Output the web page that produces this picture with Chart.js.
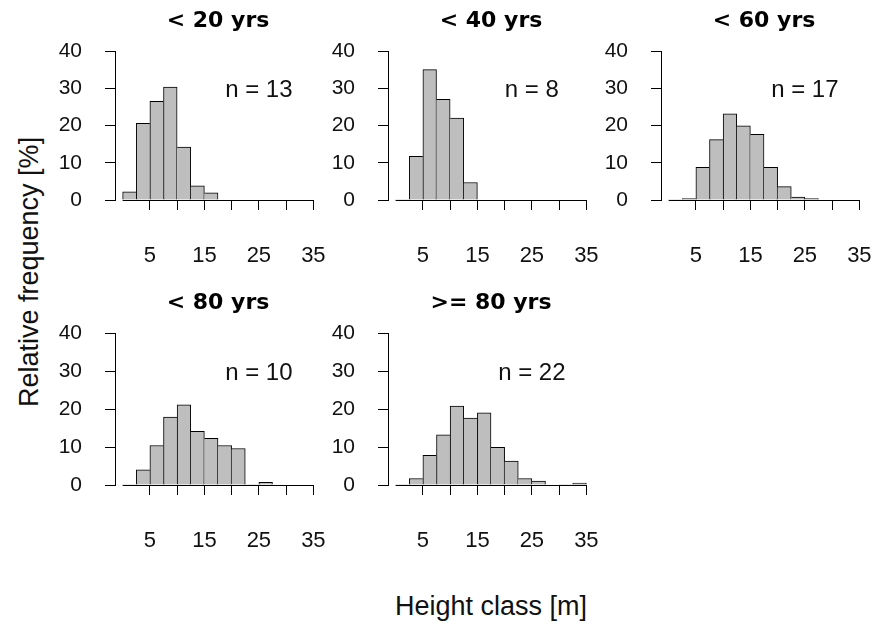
<!DOCTYPE html>
<html>
<head>
<meta charset="utf-8">
<script src="https://cdn.jsdelivr.net/npm/chart.js@4.4.1/dist/chart.umd.min.js"></script>
<style>
  html, body { margin: 0; padding: 0; background: #fff; width: 874px; height: 625px; overflow: hidden; position: relative; }
  canvas { position: absolute; }
  .outer { position: absolute; font-family: 'Liberation Sans', Arial, sans-serif; font-size: 27px; line-height: 1; white-space: nowrap; color: #111; }
  #ylab { left: 16px; top: 407px; transform-origin: 0 0; transform: rotate(-90deg); }
  #xlab { left: 395px; top: 593px; }
</style>
</head>
<body>
<div class="outer" id="ylab">Relative frequency [%]</div>
<div class="outer" id="xlab">Height class [m]</div>
<script>
// ---- data ----
const binMids = [1.25, 3.75, 6.25, 8.75, 11.25, 13.75, 16.25, 18.75, 21.25, 23.75, 26.25, 28.75, 31.25, 33.75];
const panelTitles = ['< 20 yrs', '< 40 yrs', '< 60 yrs', '< 80 yrs', '>= 80 yrs'];
const sampleSizes = [13, 8, 17, 10, 22];
const freqLt20 = [2.2, 20.6, 26.5, 30.3, 14.2, 3.8, 1.9, 0, 0, 0, 0, 0, 0, 0];
const freqLt40 = [0, 11.7, 35.0, 27.0, 22.0, 4.7, 0, 0, 0, 0, 0, 0, 0, 0];
const freqLt60 = [0, 0.4, 8.8, 16.2, 23.1, 19.9, 17.6, 8.8, 3.6, 0.8, 0.4, 0, 0, 0];
const freqLt80 = [0, 4.0, 10.4, 17.9, 21.1, 14.1, 12.3, 10.4, 9.6, 0, 0.7, 0, 0, 0];
const freqGe80 = [0, 1.7, 7.8, 13.2, 20.8, 17.6, 19.0, 9.9, 6.3, 1.7, 1.0, 0, 0, 0.5];
const yTicks = [0, 10, 20, 30, 40];
const xTicks = [5, 10, 15, 20, 25, 30, 35];
const xTickLabels = ['5', '', '15', '', '25', '', '35'];

const allSeries = [freqLt20, freqLt40, freqLt60, freqLt80, freqGe80];

// ---- layout / style ----
const FONT = "'Liberation Sans', Arial, sans-serif";
const TITLE_FONT = "'DejaVu Sans', 'Liberation Sans', sans-serif";
const yAxisW = 80, plotW = 206, rightPad = 55, titleH = 51, xAxisH = 72;
const panelBoxes = [
  { left: 115,   top: 51,  h: 149 },
  { left: 387.5, top: 51,  h: 149 },
  { left: 661,   top: 51,  h: 149 },
  { left: 115,   top: 333, h: 152 },
  { left: 387.5, top: 333, h: 152 }
];
const xRange = { min: -1.4, max: 36.4 };
const baseLineRange = [0, 35];
const nLabelAt = { x: 25, y: 29.5 };

function edgeWidths(ctx) {
  const d = ctx.dataset.data, i = ctx.dataIndex;
  const cur = d[i].y;
  const prev = i > 0 ? d[i - 1].y : 0;
  const next = i < d.length - 1 ? d[i + 1].y : 0;
  return { top: 1, bottom: 0, left: prev < cur ? 1 : 0, right: next <= cur ? 1 : 0 };
}

const baseLinePlugin = {
  id: 'baseLine',
  afterDatasetsDraw(chart) {
    const { x, y } = chart.scales;
    const ctx = chart.ctx;
    const py = Math.round(y.getPixelForValue(0) - 0.5) + 0.5;
    ctx.save();
    ctx.strokeStyle = '#000';
    ctx.lineWidth = 1;
    ctx.beginPath();
    ctx.moveTo(x.getPixelForValue(baseLineRange[0]), py);
    ctx.lineTo(x.getPixelForValue(baseLineRange[1]), py);
    ctx.stroke();
    ctx.restore();
  }
};

const nLabelPlugin = {
  id: 'nLabel',
  afterDatasetsDraw(chart, args, opts) {
    const { x, y } = chart.scales;
    const ctx = chart.ctx;
    ctx.save();
    ctx.font = '24px ' + FONT;
    ctx.fillStyle = '#111';
    ctx.textAlign = 'center';
    ctx.textBaseline = 'middle';
    ctx.fillText(opts.text, x.getPixelForValue(nLabelAt.x), y.getPixelForValue(nLabelAt.y));
    ctx.restore();
  }
};

function makePanel(i) {
  const b = panelBoxes[i];
  const W = yAxisW + plotW + rightPad;
  const H = titleH + b.h + xAxisH;
  const cv = document.createElement('canvas');
  cv.width = W; cv.height = H;
  cv.style.width = W + 'px'; cv.style.height = H + 'px';
  cv.style.left = (b.left - yAxisW) + 'px';
  cv.style.top = (b.top - titleH) + 'px';
  document.body.appendChild(cv);

  new Chart(cv, {
    type: 'bar',
    data: {
      datasets: [{
        data: binMids.map((m, k) => ({ x: m, y: allSeries[i][k] })),
        backgroundColor: '#bebebe',
        borderColor: '#000',
        borderWidth: edgeWidths,
        borderSkipped: false,
        categoryPercentage: 1,
        barPercentage: 1
      }]
    },
    options: {
      responsive: false,
      animation: false,
      devicePixelRatio: 1,
      layout: { padding: { top: 0, left: 0, right: rightPad, bottom: 0 } },
      plugins: {
        legend: { display: false },
        tooltip: { enabled: false },
        title: {
          display: true,
          text: panelTitles[i],
          fullSize: false,
          color: '#000',
          font: { family: TITLE_FONT, size: 22, weight: 'bold', lineHeight: 1.2 },
          padding: { top: 8, bottom: titleH - 8 - 22 * 1.2 }
        },
        nLabel: { text: 'n = ' + sampleSizes[i] }
      },
      scales: {
        x: {
          type: 'linear',
          offset: false,
          min: xRange.min,
          max: xRange.max,
          afterFit: s => { s.height = xAxisH; },
          afterBuildTicks: s => { s.ticks = xTicks.map(v => ({ value: v })); },
          ticks: {
            autoSkip: false, maxRotation: 0, minRotation: 0,
            callback: (v, idx) => xTickLabels[idx],
            color: '#111', font: { family: FONT, size: 22 }, padding: 33
          },
          grid: { offset: false, drawOnChartArea: false, drawTicks: true, tickLength: 10, color: '#000', lineWidth: 1 },
          border: { display: false }
        },
        y: {
          min: 0, max: 40,
          afterFit: s => { s.width = yAxisW; },
          afterBuildTicks: s => { s.ticks = yTicks.map(v => ({ value: v })); },
          ticks: { color: '#111', font: { family: FONT, size: 21 }, padding: 23 },
          grid: { drawOnChartArea: false, drawTicks: true, tickLength: 10, color: '#000', lineWidth: 1 },
          border: { display: true, color: '#000', width: 1 }
        }
      }
    },
    plugins: [baseLinePlugin, nLabelPlugin]
  });
}

for (let i = 0; i < panelBoxes.length; i++) makePanel(i);
</script>
</body>
</html>
